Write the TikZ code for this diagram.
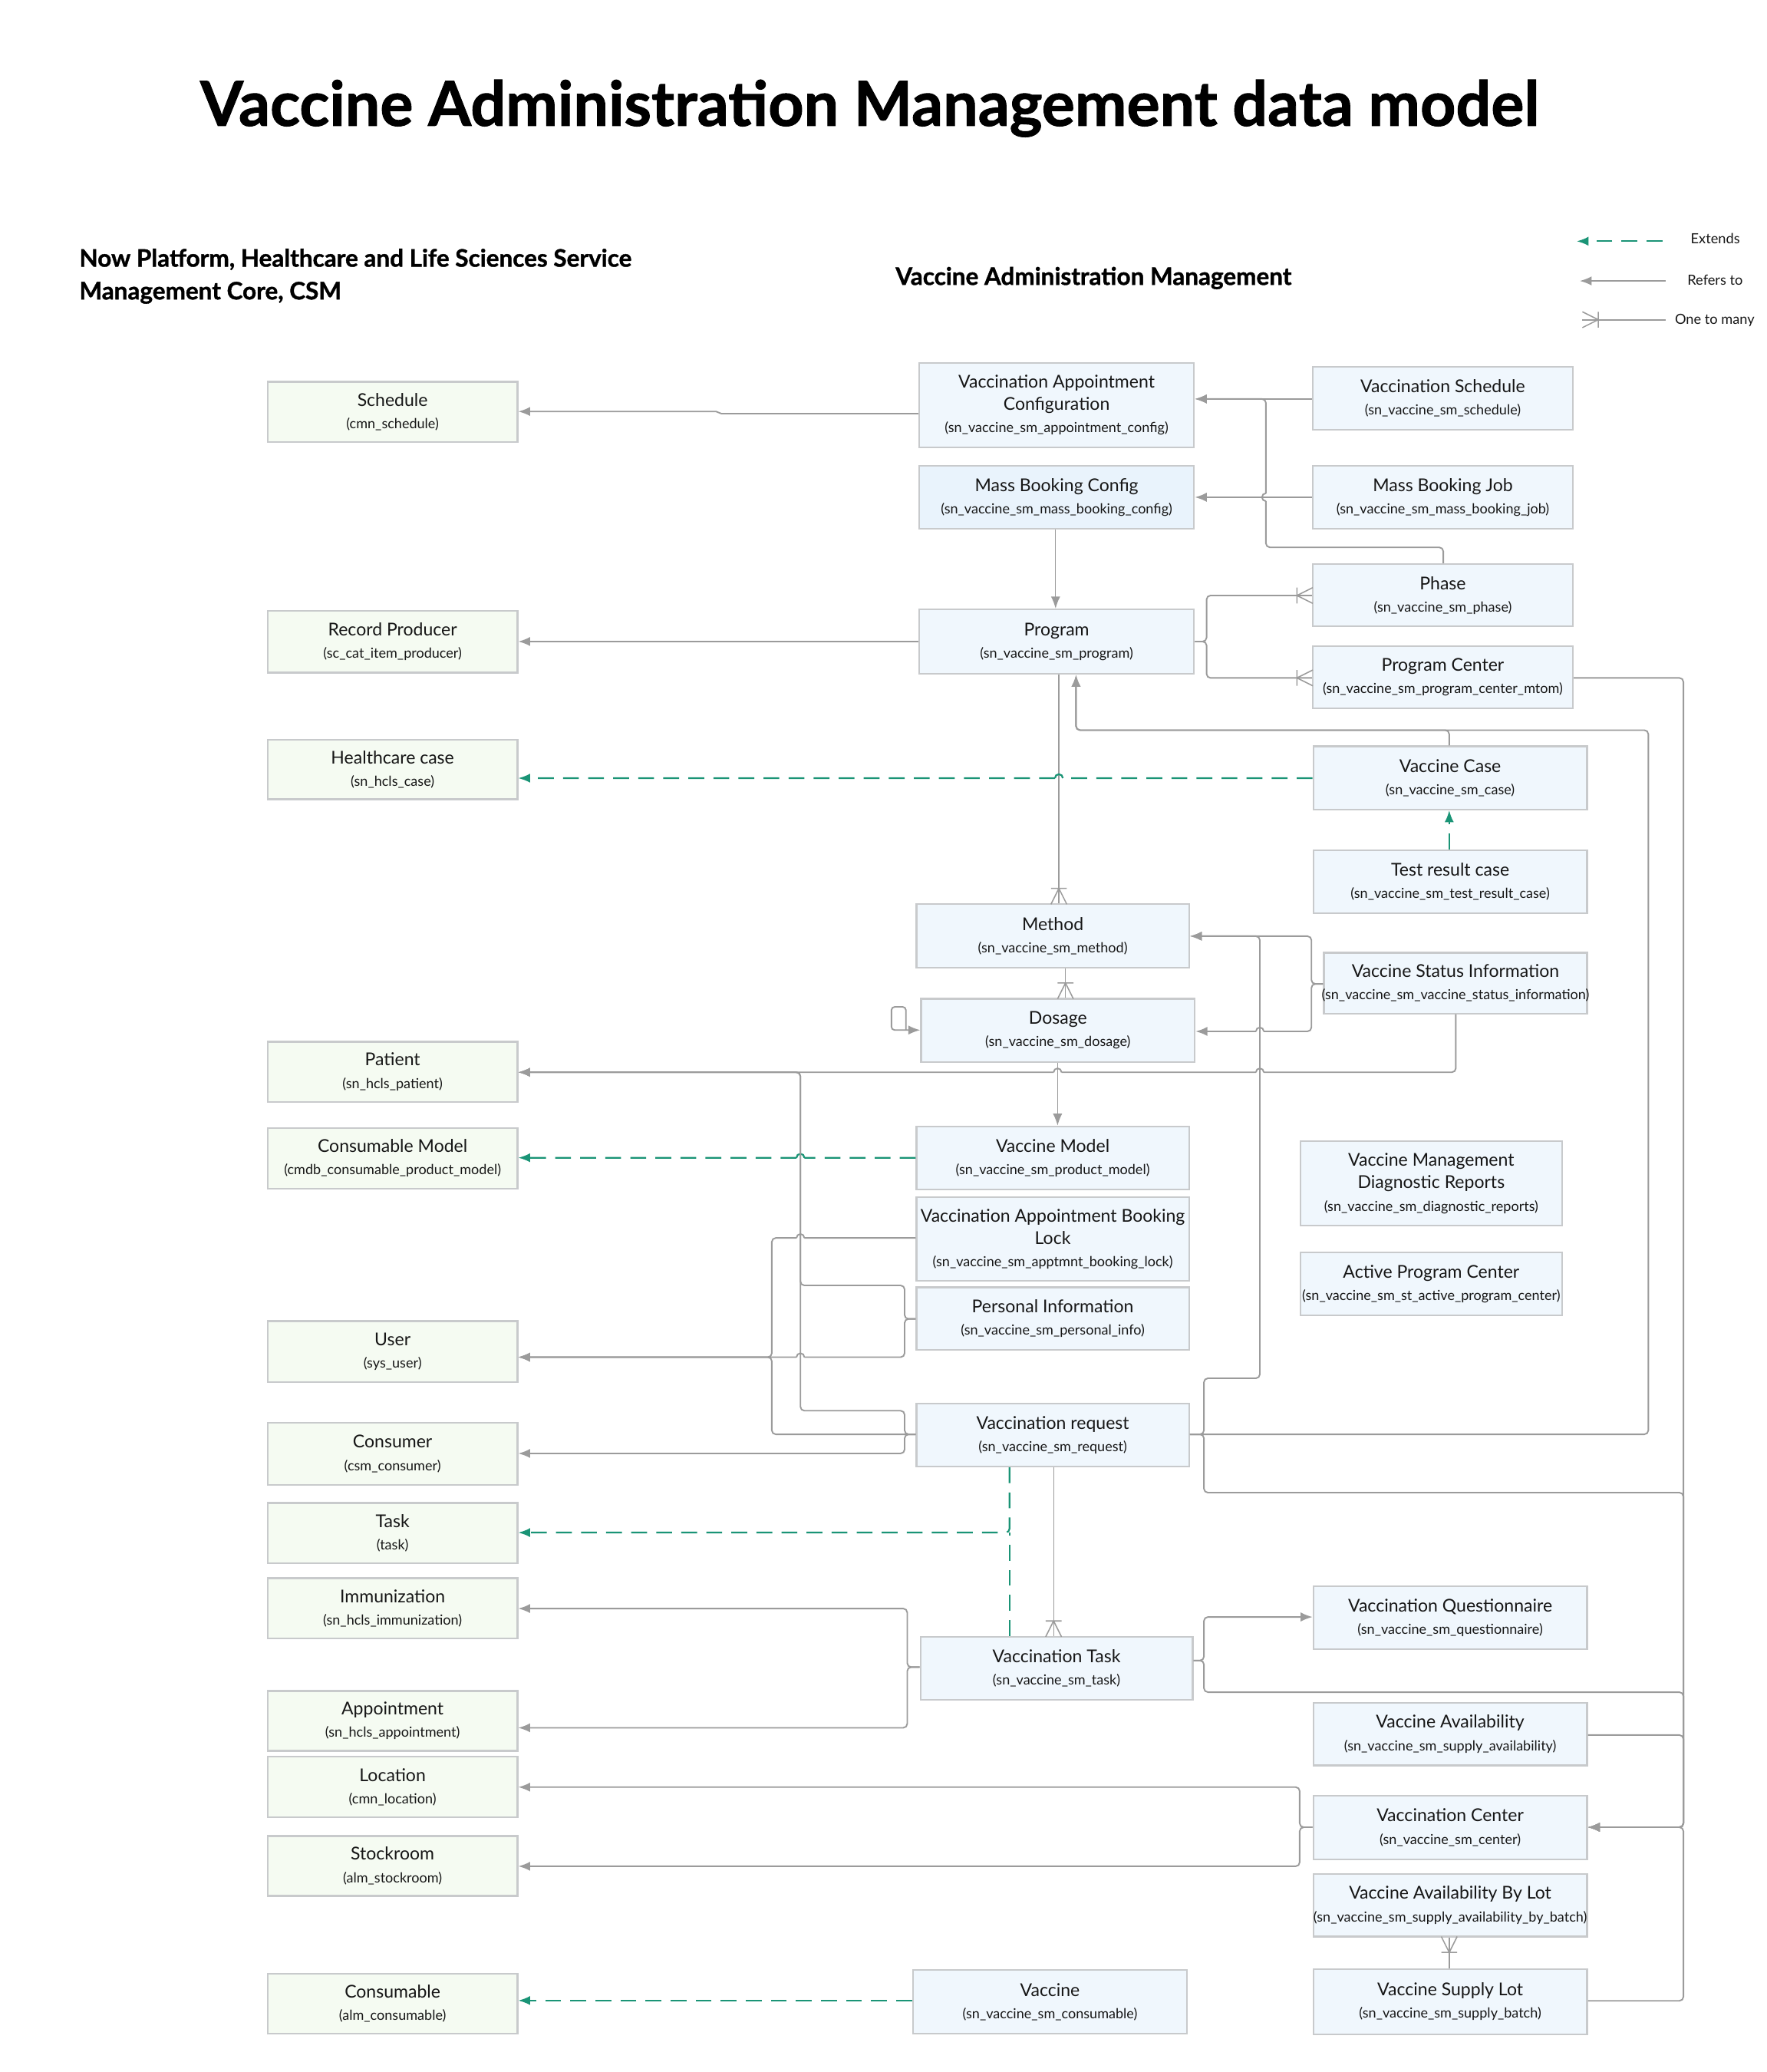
\documentclass[tikz,border=0pt]{standalone}
\usepackage{fontspec}
\setmainfont{Lato}
\newfontfamily\heavyfont{Lato}[BoldFeatures={FakeBold=1.2}]
\usetikzlibrary{arrows.meta}
\definecolor{gfill}{RGB}{245,251,242}
\definecolor{bfill}{RGB}{240,247,253}
\definecolor{bfilltwo}{RGB}{233,243,252}
\definecolor{bdr}{RGB}{200,202,204}
\definecolor{lgrey}{RGB}{155,155,155}
\definecolor{extg}{RGB}{26,148,118}
\definecolor{ink}{RGB}{22,22,22}
\newcommand\entfont{\fontsize{13.4}{17}\selectfont}
\newcommand\subfnt{\fontsize{10.5}{17}\selectfont}
\newcommand\legfont{\fontsize{10.6}{12}\selectfont}
\newcommand\hdrfont{\fontsize{18.3}{21}\selectfont\heavyfont\bfseries}
\newcommand\ttlfont{\fontsize{47}{54}\selectfont\heavyfont\bfseries}
\newcommand\Tline[1]{\makebox[0pt]{#1}}
\newcommand\Sline[1]{\makebox[0pt]{\subfnt #1}}
\newcommand\entity[7]{\node[#2, minimum width={(#5)-(#3)}, minimum height={(#6)-(#4)}] (#1) at ({((#3)+(#5))/2},{((#4)+(#6))/2}) {#7};}
\newcommand\crowW[2]{\draw[crowline] ({#1-12},{#2}) -- ({#1},{#2-6}) ({#1-12},{#2}) -- ({#1},{#2+6}) ({#1-12},{#2-6}) -- ({#1-12},{#2+6});}
\newcommand\crowE[2]{\draw[crowline] ({#1+12},{#2}) -- ({#1},{#2-6}) ({#1+12},{#2}) -- ({#1},{#2+6}) ({#1+12},{#2-6}) -- ({#1+12},{#2+6});}
\newcommand\crowN[2]{\draw[crowline] ({#1},{#2-12}) -- ({#1-6},{#2}) ({#1},{#2-12}) -- ({#1+6},{#2}) ({#1-6},{#2-12}) -- ({#1+6},{#2-12});}
\newcommand\crowS[2]{\draw[crowline] ({#1},{#2+12}) -- ({#1-6},{#2}) ({#1},{#2+12}) -- ({#1+6},{#2}) ({#1-6},{#2+12}) -- ({#1+6},{#2+12});}
\tikzset{
  box/.style={draw=bdr, line width=1.3pt, inner sep=0pt, align=center, text=ink, font=\entfont},
  gbox/.style={box, fill=gfill},
  bbox/.style={box, fill=bfill},
  bboxtwo/.style={box, fill=bfilltwo},
  link/.style={draw=lgrey, line width=1.1pt, rounded corners=3pt},
  ref/.style={link, -{Latex[length=9pt,width=7pt]}},
  thinlink/.style={draw=lgrey, line width=0.7pt},
  thinref/.style={thinlink, -{Latex[length=9pt,width=7pt]}},
  ext/.style={draw=extg, line width=1.3pt, dash pattern=on 12pt off 7pt, rounded corners=3pt, -{Latex[length=9pt,width=7pt]}},
  extline/.style={draw=extg, line width=1.3pt, dash pattern=on 12pt off 7pt},
  crowline/.style={draw=lgrey, line width=0.9pt},
  legtxt/.style={inner sep=0pt, font=\legfont, text=ink},
  hdr/.style={inner sep=0pt, font=\hdrfont, text=black},
}
\begin{document}
\begin{tikzpicture}[x=1pt,y=-1pt]
\path[fill=white, use as bounding box] (0,0) rectangle (1340,1571);

% headers
\node[inner sep=0pt, font=\ttlfont, anchor=base] (title) at (659.5,95.4) {Vaccine Administration Management data model};
\node[hdr, anchor=base west] (hdrLa) at (60,202.2) {Now Platform, Healthcare and Life Sciences Service};
\node[hdr, anchor=base west] (hdrLb) at (60,227) {Management Core, CSM};
\node[hdr, anchor=base west] (hdrR) at (679,216) {Vaccine Administration Management};

% legend
\coordinate (lgAa) at (1260.6,182.9); \coordinate (lgAb) at (1195.7,182.9);
\coordinate (lgBa) at (1263,213); \coordinate (lgBb) at (1198,213);
\coordinate (lgCa) at (1263,242.4); \coordinate (lgCb) at (1200,242.4);
\draw[ext] (lgAa) -- (lgAb);
\draw[ref] (lgBa) -- (lgBb);
\draw[link] (lgCa) -- (lgCb);
\crowE{1200}{242.4}
\node[legtxt, anchor=base west] (lgtA) at (1282,184.8) {Extends};
\node[legtxt, anchor=base west] (lgtB) at (1279.5,216.3) {Refers to};
\node[legtxt, anchor=base west] (lgtC) at (1270,245.8) {One to many};

% left column
\entity{sched}{gbox}{203}{289.5}{392.4}{335}{\Tline{Schedule}\\\Sline{(cmn\_schedule)}}
\entity{recprod}{gbox}{203}{463}{392.4}{510}{\Tline{Record Producer}\\\Sline{(sc\_cat\_item\_producer)}}
\entity{hcase}{gbox}{203}{560.7}{392.4}{606}{\Tline{Healthcare case}\\\Sline{(sn\_hcls\_case)}}
\entity{patient}{gbox}{203}{789.8}{392.4}{835.5}{\Tline{Patient}\\\Sline{(sn\_hcls\_patient)}}
\entity{cmodel}{gbox}{203}{855.1}{392.4}{901.4}{\Tline{Consumable Model}\\\Sline{(cmdb\_consumable\_product\_model)}}
\entity{user}{gbox}{203}{1001.6}{392.4}{1047.9}{\Tline{User}\\\Sline{(sys\_user)}}
\entity{consumer}{gbox}{203}{1078.8}{392.4}{1125.8}{\Tline{Consumer}\\\Sline{(csm\_consumer)}}
\entity{task}{gbox}{203}{1139.6}{392.4}{1185}{\Tline{Task}\\\Sline{(task)}}
\entity{immun}{gbox}{203}{1196.6}{392.4}{1242.3}{\Tline{Immunization}\\\Sline{(sn\_hcls\_immunization)}}
\entity{appt}{gbox}{203}{1282.1}{392.4}{1327.5}{\Tline{Appointment}\\\Sline{(sn\_hcls\_appointment)}}
\entity{loc}{gbox}{203}{1332}{392.4}{1377.7}{\Tline{Location}\\\Sline{(cmn\_location)}}
\entity{stock}{gbox}{203}{1392}{392.4}{1437.4}{\Tline{Stockroom}\\\Sline{(alm\_stockroom)}}
\entity{consum}{gbox}{203}{1496.5}{392.4}{1541.9}{\Tline{Consumable}\\\Sline{(alm\_consumable)}}

% middle column
\entity{vac}{bbox}{697}{275}{905.5}{339}{\Tline{Vaccination Appointment}\\\Tline{Configuration}\\\Sline{(sn\_vaccine\_sm\_appointment\_config)}}
\entity{mbc}{bboxtwo}{697}{353}{905.5}{401}{\Tline{Mass Booking Config}\\\Sline{(sn\_vaccine\_sm\_mass\_booking\_config)}}
\entity{prog}{bbox}{697}{462}{905.5}{511}{\Tline{Program}\\\Sline{(sn\_vaccine\_sm\_program)}}
\entity{method}{bbox}{695}{685.6}{901.7}{733.5}{\Tline{Method}\\\Sline{(sn\_vaccine\_sm\_method)}}
\entity{dosage}{bbox}{698.5}{757.3}{906}{805.2}{\Tline{Dosage}\\\Sline{(sn\_vaccine\_sm\_dosage)}}
\entity{vmodel}{bbox}{695}{854}{901.7}{901.9}{\Tline{Vaccine Model}\\\Sline{(sn\_vaccine\_sm\_product\_model)}}
\entity{vabl}{bbox}{695}{907.7}{901.7}{971.1}{\Tline{Vaccination Appointment Booking}\\\Tline{Lock}\\\Sline{(sn\_vaccine\_sm\_apptmnt\_booking\_lock)}}
\entity{pinfo}{bbox}{695}{976}{901.7}{1023.5}{\Tline{Personal Information}\\\Sline{(sn\_vaccine\_sm\_personal\_info)}}
\entity{vreq}{bbox}{695}{1064}{901.7}{1111.9}{\Tline{Vaccination request}\\\Sline{(sn\_vaccine\_sm\_request)}}
\entity{vtask}{bbox}{698}{1241}{904.5}{1288.7}{\Tline{Vaccination Task}\\\Sline{(sn\_vaccine\_sm\_task)}}
\entity{vaccine}{bbox}{692.2}{1493.7}{900.3}{1541.9}{\Tline{Vaccine}\\\Sline{(sn\_vaccine\_sm\_consumable)}}

% right column
\entity{vsched}{bbox}{995.5}{278}{1192.8}{326}{\Tline{Vaccination Schedule}\\\Sline{(sn\_vaccine\_sm\_schedule)}}
\entity{mbj}{bbox}{995.5}{353}{1192.8}{401}{\Tline{Mass Booking Job}\\\Sline{(sn\_vaccine\_sm\_mass\_booking\_job)}}
\entity{phase}{bbox}{995.5}{427.7}{1192.8}{475}{\Tline{Phase}\\\Sline{(sn\_vaccine\_sm\_phase)}}
\entity{pcenter}{bbox}{995.5}{489.7}{1192.8}{537.2}{\Tline{Program Center}\\\Sline{(sn\_vaccine\_sm\_program\_center\_mtom)}}
\entity{vcase}{bbox}{996}{565.8}{1203.5}{613.7}{\Tline{Vaccine Case}\\\Sline{(sn\_vaccine\_sm\_case)}}
\entity{trcase}{bbox}{996}{644.8}{1203.5}{692.3}{\Tline{Test result case}\\\Sline{(sn\_vaccine\_sm\_test\_result\_case)}}
\entity{vsi}{bbox}{1004}{722.3}{1203.5}{768.4}{\Tline{Vaccine Status Information}\\\Sline{(sn\_vaccine\_sm\_vaccine\_status\_information)}}
\entity{vmdr}{bbox}{986.2}{865.3}{1184.5}{929.2}{\Tline{Vaccine Management}\\\Tline{Diagnostic Reports}\\\Sline{(sn\_vaccine\_sm\_diagnostic\_reports)}}
\entity{apc}{bbox}{986.2}{949.7}{1184.5}{997.2}{\Tline{Active Program Center}\\\Sline{(sn\_vaccine\_sm\_st\_active\_program\_center)}}
\entity{vq}{bbox}{996}{1202.8}{1203.5}{1250.4}{\Tline{Vaccination Questionnaire}\\\Sline{(sn\_vaccine\_sm\_questionnaire)}}
\entity{vavail}{bbox}{996}{1291}{1203.5}{1338.5}{\Tline{Vaccine Availability}\\\Sline{(sn\_vaccine\_sm\_supply\_availability)}}
\entity{vcenter}{bbox}{996}{1361.4}{1203.5}{1409.8}{\Tline{Vaccination Center}\\\Sline{(sn\_vaccine\_sm\_center)}}
\entity{vablot}{bbox}{996}{1420.7}{1203.5}{1468.3}{\Tline{Vaccine Availability By Lot}\\\Sline{(sn\_vaccine\_sm\_supply\_availability\_by\_batch)}}
\entity{vsl}{bbox}{996}{1492.9}{1203.5}{1542.5}{\Tline{Vaccine Supply Lot}\\\Sline{(sn\_vaccine\_sm\_supply\_batch)}}

% ---------- connectors ----------
\draw[ref, sharp corners] (vac.west |- 0,313.6) -- (547,313.6) -- (543,312) -- (sched.east |- 0,312);
\draw[ref] (vsched.west |- 0,302.5) -- (vac.east |- 0,302.5);
\draw[ref] (phase.north -| 1094.5,0) -- (1094.5,415) -- (960,415) -- (960,380) (960,380) arc[start angle=90,end angle=270,radius=3] (960,374) -- (960,302.5) -- (vac.east |- 0,302.5);
\draw[ref] (mbj.west |- 0,377) -- (mbc.east |- 0,377);
\draw[thinref] (mbc.south -| 800.5,0) -- (prog.north -| 800.5,0);
\draw[ref] (prog.west |- 0,486.4) -- (recprod.east |- 0,486.4);
\draw[link] (prog.east |- 0,486.4) -- (915,486.4) -- (915,451.5) -- (phase.west |- 0,451.5);
\draw[link] (prog.east |- 0,486.4) -- (915,486.4) -- (915,514) -- (pcenter.west |- 0,514);
\crowW{995.5}{451.5}
\crowW{995.5}{514}
\draw[ref] (pcenter.east |- 0,514) -- (1276.6,514) -- (1276.6,1385.4) -- (vcenter.east |- 0,1385.4);
\draw[ref] (vcase.north -| 1099,0) -- (1099,553.6) -- (816,553.6) -- (prog.south -| 816,0);
\draw[ref] (vreq.east |- 0,1087.5) -- (1250,1087.5) -- (1250,553.6) -- (816,553.6) -- (prog.south -| 816,0);
\draw[ref] (vreq.east |- 0,1087.5) -- (913,1087.5) -- (913,1045) -- (955.4,1045) -- (955.4,709.8) -- (method.east |- 0,709.8);
\draw[ref] (vreq.east |- 0,1087.5) -- (913,1087.5) -- (913,1131.7) -- (1276.6,1131.7) -- (1276.6,1385.4) -- (vcenter.east |- 0,1385.4);
\draw[ref] (vsi.west |- 0,746) -- (994.5,746) -- (994.5,709.8) -- (method.east |- 0,709.8);
\draw[ref] (vsi.west |- 0,746) -- (994.5,746) -- (994.5,782) -- (958.4,782) (958.4,782) arc[start angle=0,end angle=-180,radius=3] (952.4,782) -- (dosage.east |- 0,782);
\draw[ref] (vsi.south -| 1104,0) -- (1104,813) -- (958.4,813) (958.4,813) arc[start angle=0,end angle=-180,radius=3] (952.4,813) -- (805,813) (805,813) arc[start angle=0,end angle=-180,radius=3] (799,813) -- (patient.east |- 0,813);
\draw[thinlink] (prog.south -| 803,0) -- (method.north -| 803,0);
\crowN{803}{685.6}
\draw[thinlink] (method.south -| 808,0) -- (dosage.north -| 808,0);
\crowN{808}{757.3}
\draw[thinref] (dosage.south -| 802,0) -- (vmodel.north -| 802,0);
\coordinate (loopA) at (687,781);
\draw[ref, rounded corners=2.5pt] (loopA) -- (687,763.4) -- (676,763.4) -- (676,781) -- (dosage.west |- 0,781);

% extends
\draw[ext] (vcase.west |- 0,590) -- (806,590) (806,590) arc[start angle=0,end angle=-180,radius=3] (800,590) -- (hcase.east |- 0,590);
\draw[ext] (trcase.north -| 1099,0) -- (vcase.south -| 1099,0);
\draw[ext] (vmodel.west |- 0,877.8) -- (610,877.8) (610,877.8) arc[start angle=0,end angle=-180,radius=3] (604,877.8) -- (cmodel.east |- 0,877.8);
\coordinate (taskJ) at (765.6,1162);
\draw[ext] (vreq.south -| 765.6,0) -- (taskJ) -- (task.east |- taskJ);
\draw[extline] (vtask.north -| 765.6,0) -- (taskJ);
\draw[ext] (vaccine.west |- 0,1516.8) -- (consum.east |- 0,1516.8);

% left side references
\draw[ref] (vabl.west |- 0,938.6) -- (610,938.6) (610,938.6) arc[start angle=0,end angle=-180,radius=3] (604,938.6) -- (585.3,938.6) -- (585.3,1029) -- (user.east |- 0,1029);
\draw[ref] (pinfo.west |- 0,1000) -- (686,1000) -- (686,974.6) -- (607,974.6) -- (607,813) -- (patient.east |- 0,813);
\draw[ref] (pinfo.west |- 0,1000) -- (686,1000) -- (686,1029) -- (610,1029) (610,1029) arc[start angle=0,end angle=-180,radius=3] (604,1029) -- (user.east |- 0,1029);
\draw[ref] (vreq.west |- 0,1087.5) -- (686,1087.5) -- (686,1069.6) -- (607,1069.6) -- (607,813) -- (patient.east |- 0,813);
\draw[ref] (vreq.west |- 0,1087.5) -- (585.3,1087.5) -- (585.3,1029) -- (user.east |- 0,1029);
\draw[ref] (vreq.west |- 0,1087.5) -- (686,1087.5) -- (686,1102) -- (consumer.east |- 0,1102);

% vaccination task
\draw[thinlink] (vreq.south -| 799,0) -- (vtask.north -| 799,0);
\crowN{799}{1241}
\draw[ref] (vtask.west |- 0,1264) -- (688,1264) -- (688,1219.6) -- (immun.east |- 0,1219.6);
\draw[ref] (vtask.west |- 0,1264) -- (688,1264) -- (688,1310) -- (appt.east |- 0,1310);
\draw[ref] (vtask.east |- 0,1259) -- (913,1259) -- (913,1226) -- (vq.west |- 0,1226);
\draw[ref] (vtask.east |- 0,1259) -- (913,1259) -- (913,1283) -- (1276.6,1283) -- (1276.6,1385.4) -- (vcenter.east |- 0,1385.4);

% supply side
\draw[ref] (vavail.east |- 0,1315.5) -- (1276.6,1315.5) -- (1276.6,1385.4) -- (vcenter.east |- 0,1385.4);
\draw[ref] (vsl.east |- 0,1517) -- (1276.6,1517) -- (1276.6,1385.4) -- (vcenter.east |- 0,1385.4);
\draw[ref] (vcenter.west |- 0,1385.4) -- (985.6,1385.4) -- (985.6,1355) -- (loc.east |- 0,1355);
\draw[ref] (vcenter.west |- 0,1385.4) -- (985.6,1385.4) -- (985.6,1415) -- (stock.east |- 0,1415);
\draw[link] (vsl.north -| 1099,0) -- (vablot.south -| 1099,0);
\crowS{1099}{1468.3}
\end{tikzpicture}
\end{document}
